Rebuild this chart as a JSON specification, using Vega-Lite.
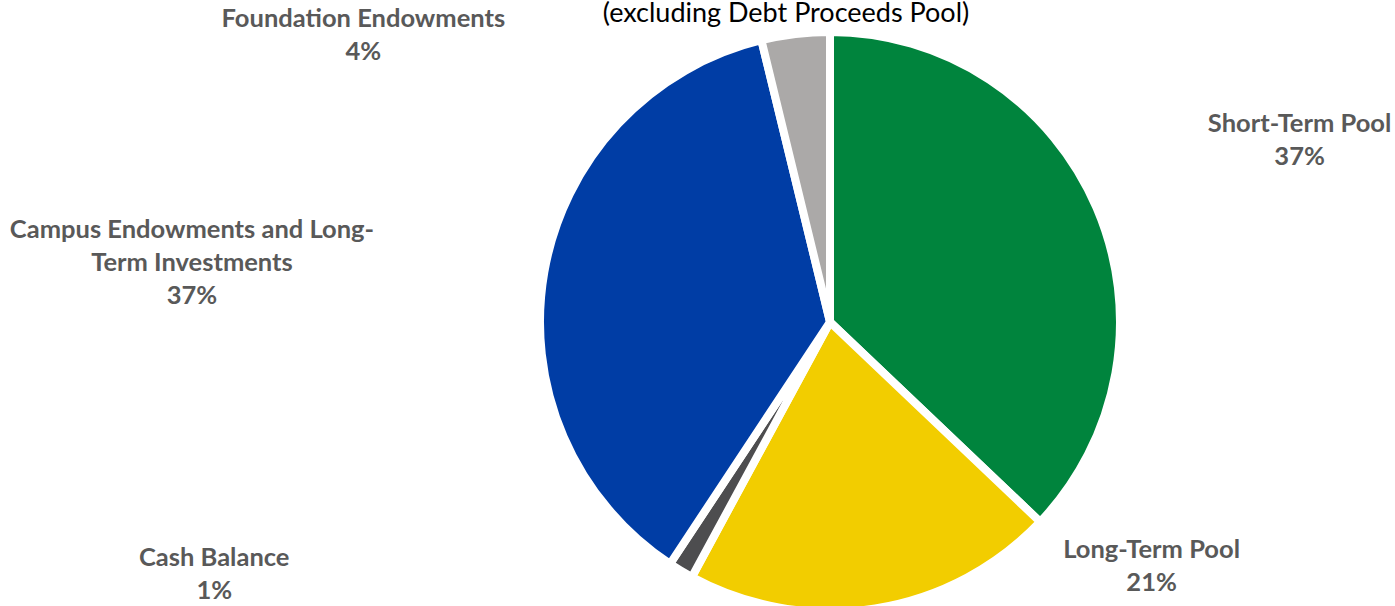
{
  "$schema": "https://vega.github.io/schema/vega-lite/v6.json",
  "width": 1130,
  "height": 568,
  "autosize": {"type": "none"},
  "padding": {"left": 265, "top": 38, "right": 0, "bottom": 0},
  "background": "white",
  "config": {"view": {"stroke": null}},
  "title": {
    "text": "(excluding Debt Proceeds Pool)",
    "font": "Lato",
    "fontSize": 27,
    "fontWeight": "normal",
    "color": "#000000",
    "anchor": "middle",
    "dx": -44,
    "offset": -42,
    "baseline": "alphabetic"
  },
  "data": {
    "values": [
      {"idx": 1, "category": "Short-Term Pool", "value": 37.1, "label": "Short-Term Pool\n37%"},
      {"idx": 2, "category": "Long-Term Pool", "value": 20.8, "label": "Long-Term Pool\n21%"},
      {"idx": 3, "category": "Cash Balance", "value": 1.4, "label": "Cash Balance\n1%"},
      {"idx": 4, "category": "Campus Endowments and Long-Term Investments", "value": 36.9, "label": "Campus Endowments and Long-\nTerm Investments\n37%"},
      {"idx": 5, "category": "Foundation Endowments", "value": 3.8, "label": "Foundation Endowments\n4%"}
    ]
  },
  "encoding": {
    "theta": {"field": "value", "type": "quantitative", "stack": true},
    "order": {"field": "idx", "type": "quantitative"}
  },
  "layer": [
    {
      "mark": {"type": "arc", "radius": 290, "stroke": "white", "strokeWidth": 8},
      "encoding": {
        "color": {
          "field": "category",
          "type": "nominal",
          "scale": {
            "domain": ["Short-Term Pool", "Long-Term Pool", "Cash Balance", "Campus Endowments and Long-Term Investments", "Foundation Endowments"],
            "range": ["#00843D", "#F2CD00", "#4D4D4F", "#003DA5", "#ABA9A8"]
          },
          "legend": null
        }
      }
    },
    {
      "mark": {
        "type": "text",
        "radius": 400,
        "font": "Lato",
        "fontWeight": "bold",
        "fontSize": 25.5,
        "fill": "#595959",
        "align": "center",
        "baseline": "alphabetic",
        "lineBreak": "\n",
        "lineHeight": 33,
        "dx": {"expr": "datum.category === 'Short-Term Pool' ? 102 : datum.category === 'Long-Term Pool' ? 259 : datum.category === 'Cash Balance' ? -410 : datum.category === 'Foundation Endowments' ? -419 : -244"},
        "dy": {"expr": "datum.category === 'Short-Term Pool' ? -32.5 : datum.category === 'Long-Term Pool' ? -159 : datum.category === 'Cash Balance' ? -99 : datum.category === 'Foundation Endowments' ? 102 : -15.5"}
      },
      "encoding": {
        "text": {"field": "label", "type": "nominal"},
        "detail": {"field": "category", "type": "nominal"}
      }
    }
  ]
}
